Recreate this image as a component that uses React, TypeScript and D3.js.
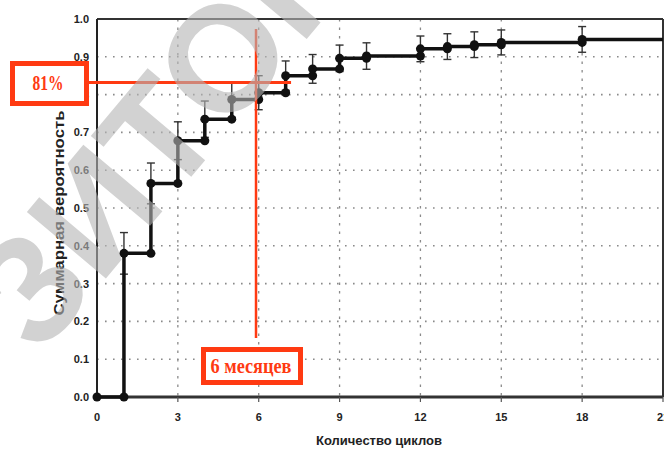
import React from "react";
import * as d3 from "d3";

const eventX = [1, 2, 3, 4, 5, 6, 7, 8, 9, 10, 12, 13, 14, 15, 18];
const cumProb = [0.38, 0.565, 0.678, 0.735, 0.787, 0.805, 0.85, 0.868, 0.896, 0.902, 0.921, 0.927, 0.932, 0.938, 0.946];
const ciHalf = [0.055, 0.054, 0.05, 0.048, 0.047, 0.045, 0.039, 0.038, 0.035, 0.035, 0.034, 0.034, 0.034, 0.033, 0.034];
const xTicks = [0, 3, 6, 9, 12, 15, 18, 21];
const yTicks = [0, 0.1, 0.2, 0.3, 0.4, 0.5, 0.6, 0.7, 0.8, 0.9, 1.0];
const xMax = 21;
const markLevel = 0.832;
const markX = 5.9;

const W = 664, H = 450;
const RED = "#ff3a12";

export default function App() {
  const x = d3.scaleLinear().domain([0, xMax]).range([97, 663]);
  const y = d3.scaleLinear().domain([0, 1]).range([397, 19]);

  const pts: [number, number][] = [[0, 0]];
  eventX.forEach((ex, i) => pts.push([ex, cumProb[i]]));
  pts.push([xMax, cumProb[cumProb.length - 1]]);
  const line = d3.line<[number, number]>().x(d => x(d[0])).y(d => y(d[1])).curve(d3.curveStepAfter);

  const dots: [number, number][] = [[0, 0]];
  eventX.forEach((ex, i) => {
    dots.push([ex, i === 0 ? 0 : cumProb[i - 1]]);
    dots.push([ex, cumProb[i]]);
  });

  const sans = "'Liberation Sans', Arial, sans-serif";
  const serif = "'Liberation Serif', 'Times New Roman', serif";

  return (
    <svg width={W} height={H} style={{ position: "absolute", left: 0, top: 0, background: "#fff" }}>
      <rect width={W} height={H} fill="#fff" />
      {/* grid */}
      {yTicks.slice(1, -1).map(t => (
        <line key={"gy" + t} x1={x(0)} x2={x(xMax)} y1={y(t)} y2={y(t)} stroke="#8a8a8a" strokeWidth={1.6} strokeDasharray="1.6,6.4" />
      ))}
      {xTicks.slice(1, -1).map(t => (
        <line key={"gx" + t} x1={x(t)} x2={x(t)} y1={y(1)} y2={y(0)} stroke="#8a8a8a" strokeWidth={1.3} strokeDasharray="2.5,6" />
      ))}
      {/* frame */}
      <line x1={x(0)} x2={x(xMax)} y1={y(1)} y2={y(1)} stroke="#333" strokeWidth={2} />
      <line x1={x(xMax)} x2={x(xMax)} y1={y(1)} y2={y(0)} stroke="#333" strokeWidth={2} />
      <line x1={x(0)} x2={x(0)} y1={y(1)} y2={y(0)} stroke="#222" strokeWidth={2} />
      <line x1={x(0)} x2={x(xMax)} y1={y(0)} y2={y(0)} stroke="#333" strokeWidth={3} />
      {xTicks.slice(1).map(t => (
        <line key={"tk" + t} x1={x(t)} x2={x(t)} y1={y(0)} y2={y(0) + 5} stroke="#555" strokeWidth={1.2} />
      ))}
      {/* tick labels */}
      {yTicks.map(t => (
        <text key={"yl" + t} x={89} y={y(t) + 4} textAnchor="end" fontFamily={sans} fontWeight="bold" fontSize={11} fill="#222">
          {t.toFixed(1)}
        </text>
      ))}
      {xTicks.map(t => (
        <text key={"xl" + t} x={x(t)} y={421} textAnchor="middle" fontFamily={sans} fontWeight="bold" fontSize={11} fill="#222">
          {t}
        </text>
      ))}
      <text x={379} y={445} textAnchor="middle" fontFamily={sans} fontWeight="bold" fontSize={13} fill="#222">
        Количество циклов
      </text>
      <text transform="translate(64,213) rotate(-90)" textAnchor="middle" fontFamily={sans} fontWeight="bold" fontSize={14.5} fill="#222" textLength={205} lengthAdjust="spacingAndGlyphs">
        Суммарная вероятность
      </text>
      {/* error bars */}
      {eventX.map((ex, i) => {
        const cx = x(ex);
        const lo = y(cumProb[i] - ciHalf[i]);
        const hi = y(cumProb[i] + ciHalf[i]);
        return (
          <g key={"eb" + ex} stroke="#333" strokeWidth={1.4}>
            <line x1={cx} x2={cx} y1={lo} y2={hi} />
            <line x1={cx - 4} x2={cx + 4} y1={hi} y2={hi} />
            <line x1={cx - 4} x2={cx + 4} y1={lo} y2={lo} />
          </g>
        );
      })}
      {/* step line */}
      <path d={line(pts) || ""} fill="none" stroke="#111" strokeWidth={3.5} />
      {dots.map((d, i) => (
        <circle key={"d" + i} cx={x(d[0])} cy={y(d[1])} r={4.5} fill="#111" />
      ))}
      {/* red annotations */}
      <line x1={88} x2={x(7.2)} y1={y(markLevel)} y2={y(markLevel)} stroke={RED} strokeWidth={3} />
      <line x1={x(markX)} x2={x(markX)} y1={29} y2={338} stroke={RED} strokeWidth={2.5} />
      <rect x={12.5} y={63.5} width={74} height={40} fill="#fff" stroke={RED} strokeWidth={5} />
      <text x={48} y={90} textAnchor="middle" fontFamily={serif} fontWeight="bold" fontSize={22} fill={RED} textLength={31} lengthAdjust="spacingAndGlyphs">
        81%
      </text>
      <rect x={203.5} y={349.5} width={97} height={33} fill="#fff" stroke={RED} strokeWidth={5} />
      <text x={251} y={373} textAnchor="middle" fontFamily={serif} fontWeight="bold" fontSize={20} fill={RED} textLength={81} lengthAdjust="spacingAndGlyphs">
        6 месяцев
      </text>
      {/* watermark */}
      <text transform="translate(39,358) rotate(-50)" fontFamily={sans} fontWeight="bold" fontSize={150} fill="#b5b5b5" opacity={0.6}>
        ЗИТОК
      </text>
    </svg>
  );
}
